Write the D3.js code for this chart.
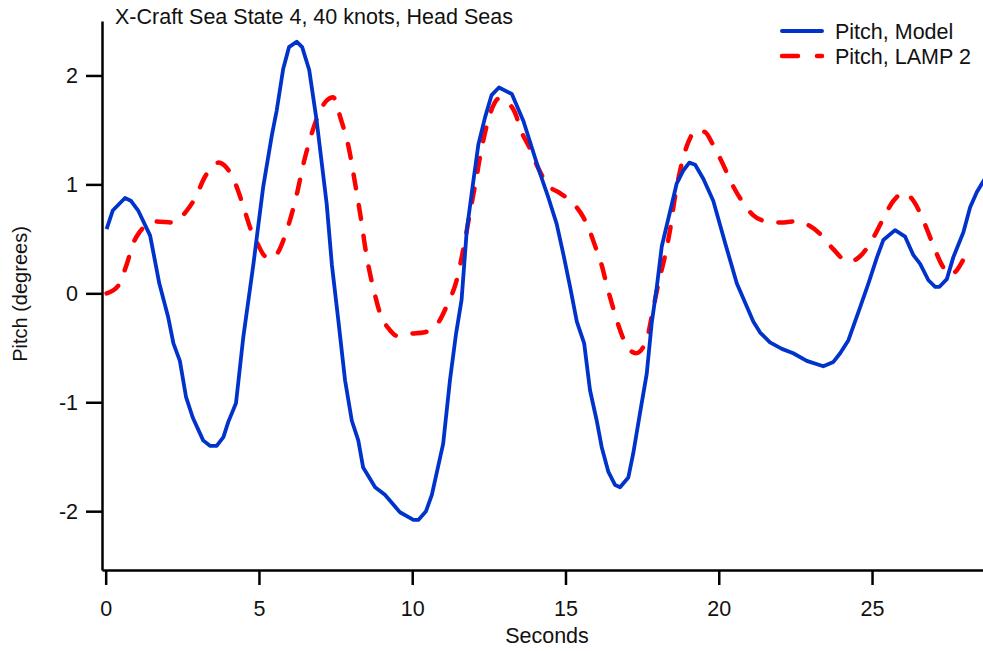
<!DOCTYPE html>
<html>
<head>
<meta charset="utf-8">
<script src="https://cdn.jsdelivr.net/npm/d3@7"></script>
<style>
  html, body { margin: 0; padding: 0; background: #fff; }
  svg { display: block; font-family: "Liberation Sans", Arial, sans-serif; }
</style>
</head>
<body>
<svg id="chart" width="983" height="651"></svg>
<script>
// Pitch time histories (seconds, degrees)
const modelTime = [0.03,0.23,0.63,0.82,1.06,1.45,1.75,2.04,2.21,2.42,2.62,2.84,3.18,3.40,3.62,3.84,4.00,4.25,4.49,4.82,5.14,5.42,5.58,5.79,5.98,6.23,6.41,6.64,6.88,7.21,7.38,7.59,7.81,8.03,8.24,8.40,8.79,9.11,9.60,10.04,10.20,10.45,10.64,11.01,11.23,11.43,11.61,11.78,11.97,12.16,12.38,12.59,12.83,13.25,13.63,14.17,14.44,14.71,14.93,15.15,15.37,15.61,15.80,16.02,16.18,16.40,16.62,16.78,17.05,17.21,17.43,17.65,17.81,17.98,18.14,18.30,18.47,18.63,18.85,19.04,19.23,19.50,19.82,20.21,20.59,21.13,21.35,21.67,22.06,22.43,22.87,23.41,23.74,23.96,24.23,24.61,24.88,25.16,25.37,25.75,26.08,26.35,26.57,26.84,27.06,27.20,27.44,27.65,27.98,28.20,28.42,28.61,28.80];
const modelPitch = [0.59,0.76,0.875,0.85,0.76,0.53,0.09,-0.22,-0.46,-0.62,-0.95,-1.14,-1.35,-1.40,-1.40,-1.32,-1.18,-1.01,-0.40,0.27,0.98,1.45,1.68,2.06,2.26,2.31,2.26,2.05,1.59,0.82,0.26,-0.25,-0.80,-1.17,-1.35,-1.60,-1.78,-1.85,-2.01,-2.08,-2.08,-2.00,-1.85,-1.38,-0.80,-0.37,-0.06,0.58,0.98,1.37,1.62,1.82,1.89,1.83,1.58,1.10,0.88,0.64,0.36,0.06,-0.26,-0.46,-0.89,-1.17,-1.41,-1.64,-1.76,-1.78,-1.69,-1.47,-1.10,-0.74,-0.28,0.06,0.43,0.62,0.82,1.01,1.13,1.20,1.18,1.05,0.85,0.46,0.09,-0.26,-0.36,-0.45,-0.51,-0.55,-0.62,-0.67,-0.63,-0.55,-0.43,-0.13,0.09,0.33,0.49,0.58,0.52,0.35,0.27,0.12,0.06,0.06,0.13,0.33,0.56,0.79,0.93,1.02,1.10];

const lampTime = [0.03,0.41,0.69,0.90,1.10,1.35,1.66,2.21,2.62,2.91,3.24,3.67,3.89,4.27,4.51,4.73,4.93,5.20,5.42,5.65,5.91,6.21,6.47,6.64,6.83,7.21,7.42,7.67,7.92,8.13,8.32,8.49,8.79,8.97,9.22,9.51,9.98,10.36,10.82,11.18,11.43,11.67,11.89,12.10,12.21,12.48,12.84,13.08,13.35,13.57,13.84,14.06,14.44,14.82,15.15,15.58,15.78,16.02,16.18,16.35,16.56,16.76,16.94,17.30,17.63,17.87,18.03,18.25,18.41,18.57,18.79,19.01,19.28,19.55,19.82,20.13,20.42,20.75,21.11,21.57,22.06,22.43,22.96,23.36,23.72,24.23,24.61,25.04,25.32,25.70,26.03,26.35,26.70,27.00,27.28,27.55,27.76,27.96];
const lampPitch = [0.00,0.07,0.27,0.46,0.56,0.63,0.66,0.65,0.75,0.87,1.07,1.20,1.17,0.98,0.78,0.59,0.47,0.34,0.32,0.39,0.58,0.88,1.21,1.39,1.56,1.77,1.80,1.60,1.35,1.02,0.70,0.38,-0.02,-0.20,-0.32,-0.39,-0.37,-0.36,-0.28,-0.08,0.10,0.41,0.75,1.07,1.25,1.59,1.79,1.76,1.66,1.48,1.33,1.18,0.99,0.92,0.85,0.70,0.58,0.39,0.26,0.07,-0.14,-0.32,-0.45,-0.55,-0.44,-0.13,0.09,0.35,0.58,0.88,1.19,1.39,1.50,1.48,1.36,1.19,1.01,0.85,0.72,0.66,0.65,0.66,0.62,0.53,0.41,0.29,0.34,0.51,0.66,0.85,0.92,0.85,0.65,0.44,0.26,0.17,0.21,0.30];

const xTicks = [0, 5, 10, 15, 20, 25];
const yTicks = [-2, -1, 0, 1, 2];

const titleText = "X-Craft Sea State 4, 40 knots, Head Seas";
const xLabel = "Seconds";
const yLabel = "Pitch (degrees)";
const seriesNames = ["Pitch, Model", "Pitch, LAMP 2"];

const blue = "#0033cc";
const red = "#ff0000";
const fontSize = "21.5px";

const svg = d3.select("#chart");
const plotLeft = 102, plotRight = 983, plotTop = 21, plotBottom = 570;

const x = d3.scaleLinear().domain([-0.12, 28.62]).range([plotLeft, plotRight]);
const y = d3.scaleLinear().domain([-2.54, 2.50]).range([plotBottom, plotTop]);

svg.append("defs").append("clipPath").attr("id", "plotClip")
  .append("rect").attr("x", plotLeft).attr("y", 0)
  .attr("width", plotRight - plotLeft).attr("height", plotBottom);

// Axes
const xAxis = svg.append("g")
  .attr("transform", `translate(0,${plotBottom})`)
  .call(d3.axisBottom(x).tickValues(xTicks).tickSize(15).tickSizeOuter(0).tickPadding(16));
const yAxis = svg.append("g")
  .attr("transform", `translate(${plotLeft},0)`)
  .call(d3.axisLeft(y).tickValues(yTicks).tickSize(16).tickSizeOuter(0).tickPadding(8)
        .tickFormat(d => d < 0 ? "-" + Math.abs(d) : String(d)));

[xAxis, yAxis].forEach(g => {
  g.select(".domain").attr("stroke", "#000").attr("stroke-width", 2.5);
  g.selectAll(".tick line").attr("stroke", "#000").attr("stroke-width", 2.5);
  g.selectAll(".tick text")
    .attr("fill", "#111")
    .style("font-size", fontSize)
    .style("font-family", '"Liberation Sans", Arial, sans-serif');
});

// Series
const plot = svg.append("g").attr("clip-path", "url(#plotClip)");

const modelData = modelTime.map((t, i) => [t, modelPitch[i]]);
const lampData = lampTime.map((t, i) => [t, lampPitch[i]]);

const lineLinear = d3.line().x(d => x(d[0])).y(d => y(d[1]));
const lineSmooth = d3.line().x(d => x(d[0])).y(d => y(d[1])).curve(d3.curveMonotoneX);

plot.append("path")
  .datum(lampData)
  .attr("d", lineSmooth)
  .attr("fill", "none")
  .attr("stroke", red)
  .attr("stroke-width", 4.5)
  .attr("stroke-linecap", "round")
  .attr("stroke-dasharray", "14,17");

plot.append("path")
  .datum(modelData)
  .attr("d", lineLinear)
  .attr("fill", "none")
  .attr("stroke", blue)
  .attr("stroke-width", 3.8)
  .attr("stroke-linejoin", "round");

// Titles
svg.append("text")
  .attr("x", 115).attr("y", 24)
  .style("font-size", fontSize).attr("fill", "#111")
  .text(titleText);

svg.append("text")
  .attr("x", 547).attr("y", 643)
  .attr("text-anchor", "middle")
  .style("font-size", fontSize).attr("fill", "#111")
  .text(xLabel);

svg.append("text")
  .attr("transform", "translate(27,294) rotate(-90)")
  .attr("text-anchor", "middle")
  .style("font-size", "20px").attr("fill", "#111")
  .text(yLabel);

// Legend
const legend = svg.append("g");
const legendRows = [
  { name: seriesNames[0], color: blue, dash: null, width: 4, y: 31 },
  { name: seriesNames[1], color: red, dash: "16,19", width: 4.5, y: 56 }
];
legendRows.forEach(r => {
  legend.append("line")
    .attr("x1", 782).attr("x2", 822)
    .attr("y1", r.y).attr("y2", r.y)
    .attr("stroke", r.color)
    .attr("stroke-width", r.width)
    .attr("stroke-linecap", "round")
    .attr("stroke-dasharray", r.dash);
  legend.append("text")
    .attr("x", 835).attr("y", r.y + 8)
    .style("font-size", fontSize).attr("fill", "#111")
    .text(r.name);
});
</script>
</body>
</html>
